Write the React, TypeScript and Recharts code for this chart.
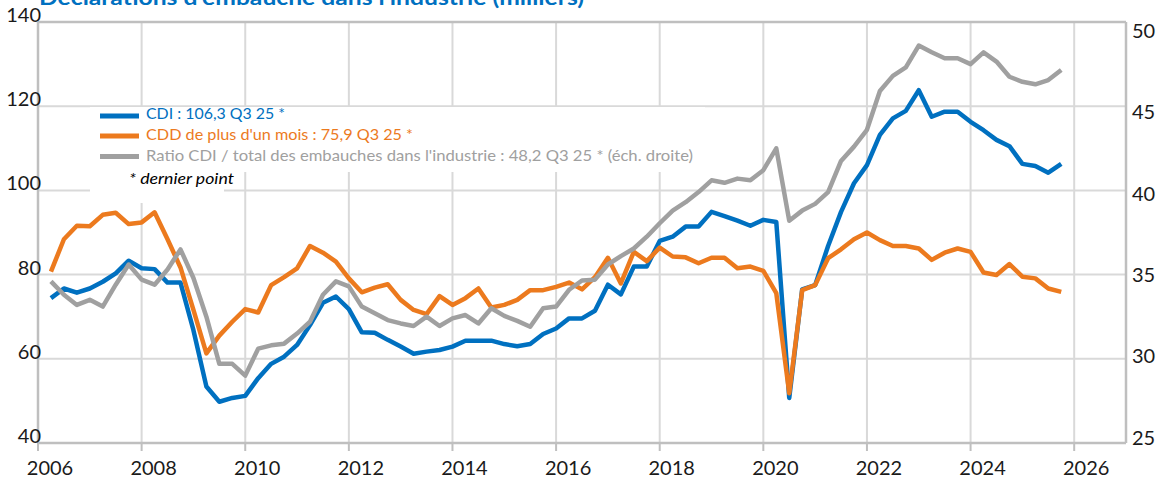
import React from 'react';
import { LineChart, Line, XAxis, YAxis, CartesianGrid, ReferenceLine } from 'recharts';

// Quarterly series, 2006 Q1 .. 2025 Q3 (plotted at end of quarter)
const START_YEAR = 2006;

const cdi = [
  74.4, 76.7, 75.7, 76.7,
  78.3, 80.3, 83.3, 81.5,
  81.3, 78.1, 78.1, 66.8,
  53.4, 49.8, 50.7, 51.2,
  55.4, 58.8, 60.5, 63.3,
  68.0, 73.3, 74.8, 71.8,
  66.3, 66.2, 64.5, 62.9,
  61.2, 61.7, 62.1, 62.9,
  64.3, 64.3, 64.3, 63.5,
  63.0, 63.5, 65.9, 67.2,
  69.6, 69.6, 71.4, 77.6,
  75.3, 81.9, 81.9, 88.0,
  89.0, 91.4, 91.4, 94.9,
  93.9, 92.8, 91.6, 93.0,
  92.5, 50.7, 76.5, 77.5,
  86.8, 94.9, 101.7, 106.0,
  113.2, 117.1, 118.9, 123.8,
  117.5, 118.7, 118.7, 116.3,
  114.3, 112.0, 110.5, 106.3,
  105.8, 104.2, 106.3,
];

const cdd = [
  80.7, 88.4, 91.6, 91.5,
  94.2, 94.7, 92.0, 92.4,
  94.8, 88.4, 81.7, 71.6,
  61.3, 65.5, 68.8, 71.8,
  71.0, 77.5, 79.4, 81.5,
  86.8, 85.2, 83.1, 79.1,
  75.8, 76.9, 77.7, 74.0,
  71.6, 70.6, 74.9, 72.8,
  74.4, 76.7, 72.2, 72.8,
  74.0, 76.3, 76.3, 77.1,
  78.1, 76.5, 79.4, 84.0,
  77.9, 85.4, 83.2, 86.4,
  84.3, 84.1, 82.7, 84.0,
  84.0, 81.5, 81.9, 80.9,
  75.6, 51.8, 76.3, 77.5,
  83.9, 86.0, 88.4, 90.0,
  88.2, 86.8, 86.8, 86.2,
  83.5, 85.2, 86.2, 85.4,
  80.5, 79.9, 82.5, 79.5,
  79.1, 76.7, 75.9,
];

const ratio = [
  34.6, 33.8, 33.2, 33.5,
  33.1, 34.4, 35.6, 34.7,
  34.4, 35.3, 36.5, 34.8,
  32.5, 29.7, 29.7, 29.0,
  30.6, 30.8, 30.9, 31.5,
  32.2, 33.8, 34.6, 34.3,
  33.1, 32.7, 32.3, 32.1,
  31.95, 32.5, 31.95, 32.4,
  32.6, 32.1, 33.0, 32.55,
  32.25, 31.9, 33.0, 33.1,
  34.1, 34.65, 34.7, 35.6,
  36.1, 36.55, 37.25, 38.05,
  38.8, 39.3, 39.9, 40.6,
  40.45, 40.7, 40.6, 41.2,
  42.5, 38.2, 38.8, 39.2,
  39.9, 41.75, 42.6, 43.6,
  45.9, 46.8, 47.3, 48.6,
  48.2, 47.85, 47.85, 47.5,
  48.2, 47.65, 46.75, 46.45,
  46.3, 46.55, 47.15,
];

const xTicks = [2006, 2008, 2010, 2012, 2014, 2016, 2018, 2020, 2022, 2024, 2026];
const leftTicks = [40, 60, 80, 100, 120, 140];
const rightTicks = [25, 30, 35, 40, 45, 50];

const TITLE = "Déclarations d'embauche dans l'industrie (milliers)";
const LEGEND_CDI = 'CDI : 106,3 Q3 25 *';
const LEGEND_CDD = "CDD de plus d'un mois : 75,9 Q3 25 *";
const LEGEND_RATIO = "Ratio CDI / total des embauches dans l'industrie : 48,2 Q3 25 * (éch. droite)";
const NOTE = '* dernier point';

const data = cdi.map((v, i) => ({
  t: START_YEAR + (i + 1) / 4,
  cdi: v,
  cdd: cdd[i],
  ratio: ratio[i],
}));

const BLUE = '#0070C0';
const ORANGE = '#EC7A1E';
const GRAY = '#A0A0A0';
const FONT = 'Lato, "Open Sans", sans-serif';

const XTick = (p: any) => (
  <text x={p.x + 12} y={p.y + 22} textAnchor="middle" fontFamily={FONT} fontSize={20} fill="#1a1a1a">
    {p.payload.value}
  </text>
);

const LeftTick = (p: any) => (
  <text x={p.x + 3} y={p.y} textAnchor="end" fontFamily={FONT} fontSize={20} fill="#1a1a1a">
    {p.payload.value}
  </text>
);

const RightTick = (p: any) => {
  const v = p.payload.value;
  const off = 16 - ((50 - v) / 25) * 14.3;
  return (
    <text x={p.x + 6} y={p.y + off} textAnchor="start" fontFamily={FONT} fontSize={20} fill="#1a1a1a">
      {v}
    </text>
  );
};

export default function App() {
  return (
    <div style={{ position: 'absolute', left: 0, top: 0, width: 1175, height: 481, background: '#fff', overflow: 'hidden' }}>
      <LineChart width={1175} height={481} data={data} margin={{ top: 22, right: 0, bottom: 0, left: 0 }}>
        <CartesianGrid yAxisId="left" stroke="#D9D9D9" strokeWidth={2} />
        <XAxis
          dataKey="t"
          type="number"
          domain={[2006, 2027]}
          ticks={xTicks}
          interval={0}
          allowDataOverflow
          height={38}
          tickSize={8}
          tickMargin={2}
          axisLine={{ stroke: '#BFBFBF', strokeWidth: 2.5 }}
          tickLine={{ stroke: '#BFBFBF', strokeWidth: 2 }}
          tick={<XTick />}
        />
        <YAxis
          yAxisId="left"
          domain={[40, 140]}
          ticks={leftTicks}
          interval={0}
          width={38}
          tickSize={0}
          tickMargin={0}
          axisLine={{ stroke: '#BFBFBF', strokeWidth: 2.5 }}
          tickLine={false}
          tick={<LeftTick />}
        />
        <YAxis
          yAxisId="right"
          orientation="right"
          domain={[25, 50]}
          ticks={rightTicks}
          interval={0}
          width={49}
          tickSize={0}
          tickMargin={0}
          axisLine={{ stroke: '#BFBFBF', strokeWidth: 2.5 }}
          tickLine={false}
          tick={<RightTick />}
        />
        <ReferenceLine yAxisId="left" y={140} stroke="#BFBFBF" strokeWidth={2.5} />
        <Line yAxisId="left" dataKey="cdi" stroke={BLUE} strokeWidth={4.5} dot={false} isAnimationActive={false} strokeLinejoin="round" />
        <Line yAxisId="left" dataKey="cdd" stroke={ORANGE} strokeWidth={4.5} dot={false} isAnimationActive={false} strokeLinejoin="round" />
        <Line yAxisId="right" dataKey="ratio" stroke={GRAY} strokeWidth={4.5} dot={false} isAnimationActive={false} strokeLinejoin="round" />
      </LineChart>
      <svg width={1175} height={481} style={{ position: 'absolute', left: 0, top: 0, pointerEvents: 'none' }}>
        <text x={39} y={5} fontFamily={FONT} fontWeight={700} fontSize={21} fill={BLUE} textLength={545} lengthAdjust="spacingAndGlyphs">
          {TITLE}
        </text>
        <rect x={90} y={107} width={615} height={65} fill="#fff" />
        <rect x={90} y={171} width={134} height={32} fill="#fff" />
        <line x1={100} x2={139} y1={116} y2={116} stroke={BLUE} strokeWidth={5} />
        <line x1={100} x2={139} y1={136} y2={136} stroke={ORANGE} strokeWidth={5} />
        <line x1={100} x2={139} y1={156.5} y2={156.5} stroke={GRAY} strokeWidth={5} />
        <text x={146} y={119} fontFamily={FONT} fontSize={15} fill={BLUE} textLength={139} lengthAdjust="spacingAndGlyphs">{LEGEND_CDI}</text>
        <text x={146} y={140} fontFamily={FONT} fontSize={15} fill={ORANGE} textLength={267} lengthAdjust="spacingAndGlyphs">{LEGEND_CDD}</text>
        <text x={146} y={160.5} fontFamily={FONT} fontSize={15} fill={GRAY} textLength={547} lengthAdjust="spacingAndGlyphs">{LEGEND_RATIO}</text>
        <text x={129} y={184} fontFamily={FONT} fontSize={15} fontStyle="italic" fill="#000" textLength={105} lengthAdjust="spacingAndGlyphs">{NOTE}</text>
      </svg>
    </div>
  );
}
